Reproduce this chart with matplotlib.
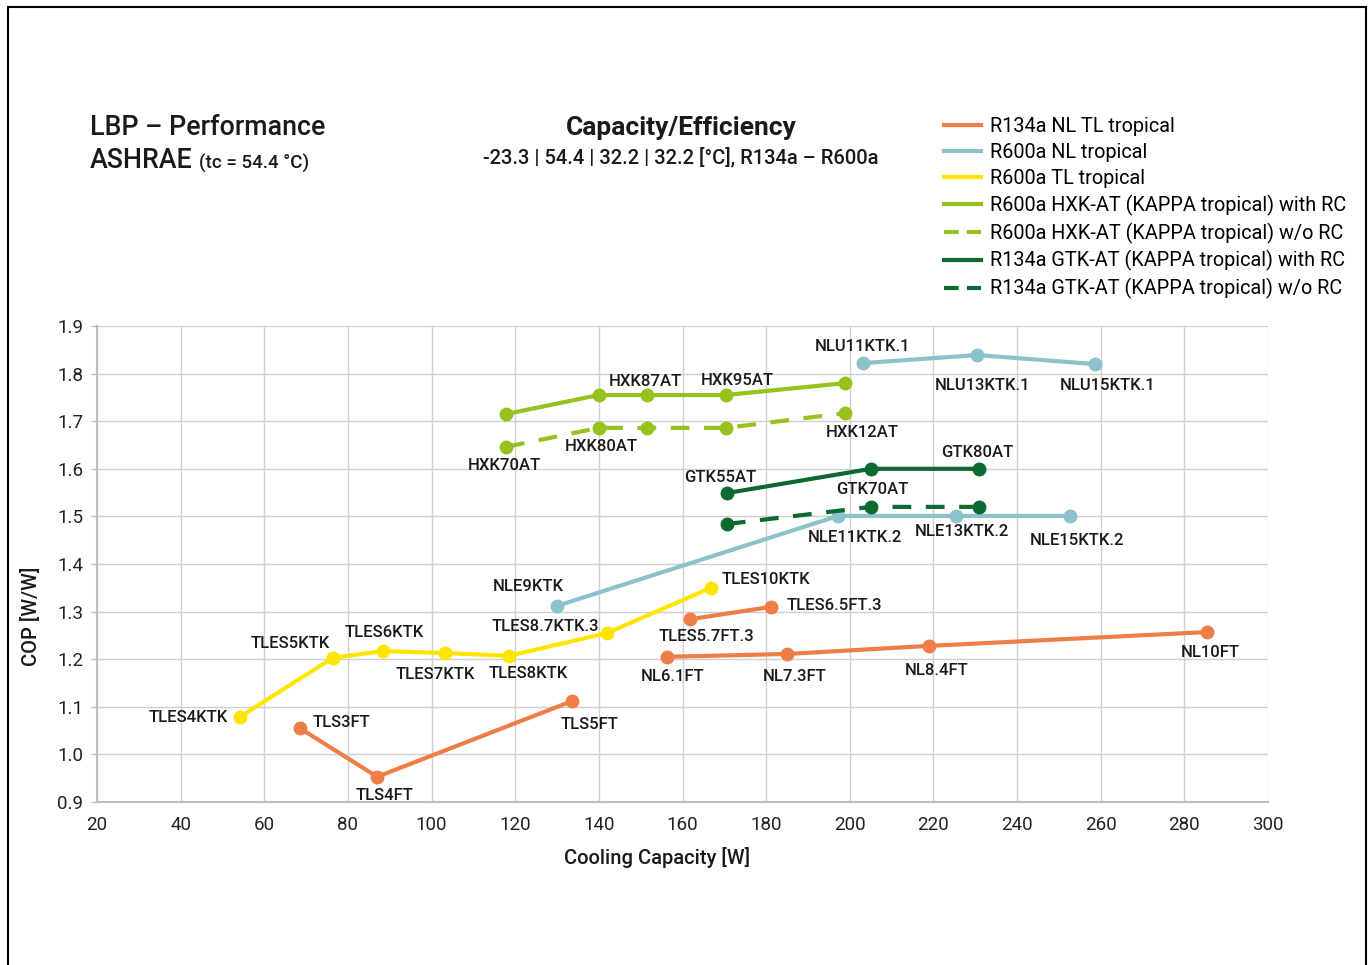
import matplotlib
matplotlib.use('Agg')
import matplotlib.pyplot as plt
from matplotlib.lines import Line2D
from matplotlib.patches import Rectangle

plt.rcParams['font.family'] = ['Roboto', 'DejaVu Sans']

# 데이터
# R134a NL TL tropical (주황, 세 구간)
tls_x = [68.5, 87.0, 133.6]
tls_y = [1.055, 0.953, 1.112]
tls_names = ['TLS3FT', 'TLS4FT', 'TLS5FT']

tlesft_x = [161.8, 181.2]
tlesft_y = [1.284, 1.310]
tlesft_names = ['TLES5.7FT.3', 'TLES6.5FT.3']

nl_x = [156.3, 185.0, 219.0, 285.4]
nl_y = [1.205, 1.211, 1.228, 1.257]
nl_names = ['NL6.1FT', 'NL7.3FT', 'NL8.4FT', 'NL10FT']

# R600a NL tropical (하늘색, 두 구간)
nle_x = [130.0, 197.2, 225.4, 252.7]
nle_y = [1.312, 1.501, 1.501, 1.501]
nle_names = ['NLE9KTK', 'NLE11KTK.2', 'NLE13KTK.2', 'NLE15KTK.2']

nlu_x = [203.2, 230.4, 258.6]
nlu_y = [1.822, 1.839, 1.820]
nlu_names = ['NLU11KTK.1', 'NLU13KTK.1', 'NLU15KTK.1']

# R600a TL tropical (노랑)
tles_x = [54.2, 76.4, 88.4, 103.2, 118.5, 142.0, 166.8]
tles_y = [1.079, 1.203, 1.217, 1.213, 1.207, 1.255, 1.350]
tles_names = ['TLES4KTK', 'TLES5KTK', 'TLES6KTK', 'TLES7KTK', 'TLES8KTK',
              'TLES8.7KTK.3', 'TLES10KTK']

# R600a HXK-AT
hxk_x = [117.8, 140.0, 151.5, 170.4, 198.9]
hxk_rc_y = [1.715, 1.755, 1.755, 1.755, 1.780]
hxk_rc_names = ['', '', 'HXK87AT', 'HXK95AT', '']
hxk_norc_y = [1.646, 1.686, 1.686, 1.686, 1.717]
hxk_norc_names = ['HXK70AT', 'HXK80AT', '', '', 'HXK12AT']

# R134a GTK-AT
gtk_x = [170.6, 205.1, 230.9]
gtk_rc_y = [1.549, 1.600, 1.600]
gtk_rc_names = ['GTK55AT', '', 'GTK80AT']
gtk_norc_y = [1.484, 1.520, 1.520]
gtk_norc_names = ['', 'GTK70AT', '']

legend_labels = ['R134a NL TL tropical', 'R600a NL tropical', 'R600a TL tropical',
                 'R600a HXK-AT (KAPPA tropical) with RC',
                 'R600a HXK-AT (KAPPA tropical) w/o RC',
                 'R134a GTK-AT (KAPPA tropical) with RC',
                 'R134a GTK-AT (KAPPA tropical) w/o RC']

# 색상
c_orange = '#ef7d48'
c_blue = '#8cc2cc'
c_yellow = '#ffe500'
c_lime = '#97c21e'
c_dark = '#0c6a30'
c_text = '#1a1a1a'

# 라벨 위치 (점 기준 픽셀 오프셋, 아래쪽이 +)
label_offsets = {
    'TLS3FT': (42, -6), 'TLS4FT': (7, 19), 'TLS5FT': (17, 23),
    'TLES5.7FT.3': (16, 17), 'TLES6.5FT.3': (63, -1),
    'NL6.1FT': (6, 20), 'NL7.3FT': (8, 23), 'NL8.4FT': (7, 25), 'NL10FT': (3, 20),
    'NLE9KTK': (-29, -19), 'NLE11KTK.2': (17, 22), 'NLE13KTK.2': (6, 16),
    'NLE15KTK.2': (7, 25),
    'NLU11KTK.1': (-1, -17), 'NLU13KTK.1': (6, 30), 'NLU15KTK.1': (13, 21),
    'TLES4KTK': (-52, 1), 'TLES5KTK': (-43, -14), 'TLES6KTK': (1, -19),
    'TLES7KTK': (-10, 21), 'TLES8KTK': (19, 18), 'TLES8.7KTK.3': (-62, -7),
    'TLES10KTK': (55, -8),
    'HXK87AT': (-2, -14), 'HXK95AT': (11, -15),
    'HXK70AT': (-2, 19), 'HXK80AT': (2, 19), 'HXK12AT': (17, 19),
    'GTK55AT': (-7, -16), 'GTK80AT': (-2, -16), 'GTK70AT': (1, -17),
}

W, H = 1368, 965
fig = plt.figure(figsize=(W / 100, H / 100), dpi=100)
fig.patch.set_facecolor('white')
ax = fig.add_axes([97 / W, 1 - 802 / H, (1268 - 97) / W, (802 - 326) / H])

dash = (4.5, 3.5)
series = [
    (tls_x, tls_y, tls_names, c_orange, '-'),
    (tlesft_x, tlesft_y, tlesft_names, c_orange, '-'),
    (nl_x, nl_y, nl_names, c_orange, '-'),
    (nle_x, nle_y, nle_names, c_blue, '-'),
    (nlu_x, nlu_y, nlu_names, c_blue, '-'),
    (tles_x, tles_y, tles_names, c_yellow, '-'),
    (hxk_x, hxk_rc_y, hxk_rc_names, c_lime, '-'),
    (hxk_x, hxk_norc_y, hxk_norc_names, c_lime, '--'),
    (gtk_x, gtk_rc_y, gtk_rc_names, c_dark, '-'),
    (gtk_x, gtk_norc_y, gtk_norc_names, c_dark, '--'),
]

for xs, ys, names, col, ls in series:
    line, = ax.plot(xs, ys, color=col, lw=3, marker='o', ms=9,
                    solid_capstyle='round', zorder=3)
    if ls == '--':
        line.set_dashes(dash)
    for x, y, n in zip(xs, ys, names):
        if not n:
            continue
        dx, dy = label_offsets[n]
        ax.annotate(n, (x, y), xytext=(dx * 0.72, -dy * 0.72),
                    textcoords='offset points', ha='center', va='center',
                    fontsize=12, fontweight='medium', color=c_text, zorder=4)

ax.set_xlim(20, 300)
ax.set_ylim(0.9, 1.9)
ax.set_xticks(range(20, 301, 20))
ax.set_yticks([0.9 + 0.1 * i for i in range(11)])
ax.set_yticklabels([f'{0.9 + 0.1 * i:.1f}' for i in range(11)])
ax.grid(True, color='#cfcfcf', lw=1)
ax.set_axisbelow(True)
for s in ['top', 'right']:
    ax.spines[s].set_visible(False)
for s in ['left', 'bottom']:
    ax.spines[s].set_color('#bdbdbd')
    ax.spines[s].set_linewidth(1.5)
ax.tick_params(axis='y', length=4, width=1, color='#bdbdbd', pad=6,
               labelsize=13.5, labelcolor='#222222')
ax.tick_params(axis='x', length=0, pad=10, labelsize=13.5, labelcolor='#222222')

# 축 제목
fig.text(31 / W, 1 - 616 / H, 'COP [W/W]', rotation=90, ha='center', va='center',
         fontsize=14.5, fontweight='medium', color=c_text)
fig.text(657 / W, 1 - 857 / H, 'Cooling Capacity [W]', ha='center', va='center',
         fontsize=14.5, fontweight='medium', color=c_text)

# 상단 제목
fig.text(90 / W, 1 - 128 / H, 'LBP – Performance', ha='left', va='center',
         fontsize=19.3, fontweight='medium', color=c_text)
fig.text(90 / W, 1 - 161 / H, 'ASHRAE', ha='left', va='center',
         fontsize=19.3, fontweight='medium', color=c_text)
fig.text(199 / W, 1 - 163 / H, '(tc = 54.4 °C)', ha='left', va='center',
         fontsize=13.5, fontweight='medium', color=c_text)
fig.text(681 / W, 1 - 128 / H, 'Capacity/Efficiency', ha='center', va='center',
         fontsize=19, fontweight='bold', color=c_text)
fig.text(681 / W, 1 - 157 / H, '-23.3 | 54.4 | 32.2 | 32.2 [°C], R134a – R600a',
         ha='center', va='center', fontsize=14.5, fontweight='medium', color=c_text)

# 범례
leg_colors = [c_orange, c_blue, c_yellow, c_lime, c_lime, c_dark, c_dark]
leg_styles = ['-', '-', '-', '-', '--', '-', '--']
handles = []
for col, ls in zip(leg_colors, leg_styles):
    h = Line2D([], [], color=col, lw=3)
    if ls == '--':
        h.set_dashes((3.5, 2))
    handles.append(h)
fig.legend(handles, legend_labels, loc='upper left',
           bbox_to_anchor=(944 / W, 1 - 117 / H), frameon=False, fontsize=14.3,
           handlelength=1.85, handletextpad=0.45, labelspacing=0.345, borderpad=0,
           borderaxespad=0)

# 바깥 테두리
fig.add_artist(Rectangle((8 / W, -0.02), (1366 - 8) / W, 1.02 - 7 / H,
                         transform=fig.transFigure, fill=False, lw=1.5,
                         edgecolor='black'))

fig.savefig('out.png', dpi=100)
